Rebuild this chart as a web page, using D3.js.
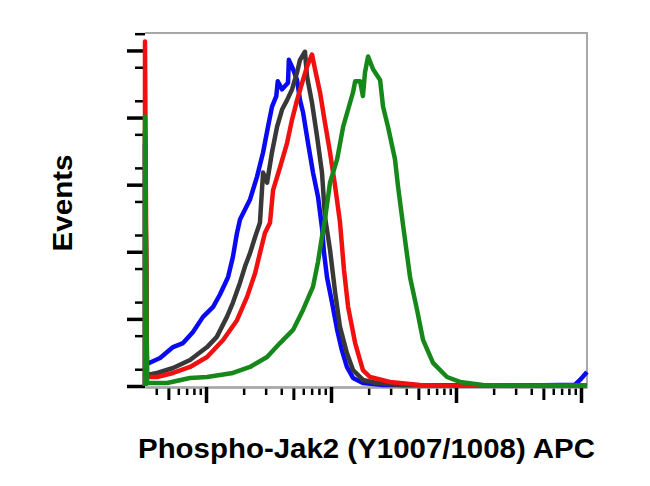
<!DOCTYPE html>
<html>
<head>
<meta charset="utf-8">
<script src="https://cdn.jsdelivr.net/npm/d3@7"></script>
<style>
  body { margin: 0; background: #fff; }
  svg { display: block; }
</style>
</head>
<body>
<div id="chart"></div>
<script>
// Histogram data: [APC intensity, events]
const blueData = [
  [3.25, 0], [3.25, 180], [3.37, 16.4], [4.29, 20.9], [5.45, 29], [6.55, 32], [7.87, 40.3],
  [9.46, 51.5], [11.4, 59], [12.9, 68], [15.0, 81], [16.4, 96], [17.7, 114], [18.7, 124],
  [22.5, 139], [25.6, 156], [28.6, 174], [31.3, 193], [33.7, 208], [36.5, 216], [37.5, 227],
  [40.6, 221], [45.3, 226], [46, 243], [49.7, 236], [53.5, 228], [56.5, 213], [59.7, 204],
  [65.5, 181], [71.8, 159], [78.7, 141], [84.7, 118], [88, 99], [92.9, 81], [102, 62],
  [112, 41.8], [122, 26.9], [134, 14.2], [150, 6], [180, 2.2], [261, 0.7], [1000, 0.5],
  [5000, 0.5], [8954, 1], [9817, 4.5], [11170, 10.4]
];
const blackData = [
  [3.25, 0], [3.25, 190], [3.37, 8.2], [4.06, 9.7], [5.45, 13.4], [7.45, 19.4], [10.2, 29],
  [12.2, 36.6], [14.7, 51.5], [16.4, 62], [18.7, 77], [20.5, 89], [22.5, 99], [24.7, 111],
  [27.0, 121.6], [28.6, 159], [30.8, 151.5], [33.7, 174], [37.0, 193], [40.6, 206],
  [44.5, 213], [48.8, 221], [53.5, 233.6], [56.5, 243], [61.9, 249], [64.3, 230.6],
  [70.5, 211], [77.3, 186], [84.7, 159], [89.5, 126], [98.2, 101.5], [108, 69.4], [118, 44],
  [134, 24.6], [150, 11.9], [180, 4.5], [233, 2.2], [356, 0.7], [2000, 0.5], [11170, 0.3]
];
const redData = [
  [3.25, 0], [3.25, 256.7], [3.37, 6.7], [4.06, 6.7], [5.45, 9.7], [7.45, 14.2], [10.2, 21.6],
  [13.7, 34.3], [17.7, 49], [21.3, 66.4], [24.7, 84], [27.0, 99], [29.6, 114], [32.5, 121.6],
  [34.4, 146], [39.1, 163], [44.5, 181], [48.8, 198.5], [53.5, 213], [59.7, 228], [64.3, 238],
  [70.5, 247], [74.5, 236], [81.7, 218.7], [89.5, 196], [98.2, 174], [108, 148.5], [118, 122],
  [127, 86.6], [137, 59], [156, 32], [180, 11.9], [205, 6.7], [296, 3], [515, 0.7],
  [847, 0.2], [11170, 0.2]
];
const greenData = [
  [3.25, 0], [3.25, 200.7], [3.37, 2.2], [4.88, 2.2], [7.45, 6], [10.2, 6.7], [16.4, 9.7],
  [22.5, 14.2], [30.8, 21.6], [39.1, 32], [49.7, 41.8], [59.7, 56.7], [71.8, 74], [78.7, 92.5],
  [86.3, 116], [89.5, 124], [98.2, 151.5], [112, 169], [125, 193], [137, 206], [150, 218.7],
  [156, 227], [171, 227], [180, 216], [187, 233.6], [198, 245.5], [217, 236], [247, 228],
  [261, 208], [286, 193], [325, 169], [344, 148.5], [377, 120], [429, 81], [488, 56.7],
  [545, 34.3], [655, 17.2], [847, 6.7], [1076, 3], [1644, 0.7], [3000, 0.3], [11170, 0.2]
];

const seriesNames = ["blue", "black", "red", "green"];
const seriesColors = ["#0a0af2", "#383838", "#f01010", "#16881a"];
const seriesData = [blueData, blackData, redData, greenData];

const yMajorTicks = [0, 50, 100, 150, 200, 250];
const xMajorTicks = [10, 100, 1000, 10000];

const xTitle = "Phospho-Jak2 (Y1007/1008) APC";
const yTitle = "Events";

function drawHistogram() {
    const margin = { top: 33, right: 63, bottom: 100, left: 145 },
          width = 650 - margin.left - margin.right,
          height = 486 - margin.top - margin.bottom;

    const svg = d3.select("#chart").append("svg")
        .attr("width", width + margin.left + margin.right)
        .attr("height", height + margin.top + margin.bottom)
        .append("g")
        .attr("transform", `translate(${margin.left},${margin.top})`);

    const x = d3.scaleLog()
        .domain([3.25, 11170])
        .range([0, width]);

    const y = d3.scaleLinear()
        .domain([0, 263])
        .range([height, 0]);

    // gray frame on top and right
    svg.append("path")
        .attr("d", `M0,0H${width}V${height}`)
        .attr("fill", "none")
        .attr("stroke", "#a8a8a8")
        .attr("stroke-width", 2);

    // minor ticks for the log axis: 2..9 of each decade, 5 a bit longer
    const xMinor = [], xMid = [];
    [1, 10, 100, 1000].forEach(dec => {
        [2, 3, 4, 6, 7, 8, 9].forEach(k => {
            const v = k * dec;
            if (v >= 3.25 && v <= 11170) xMinor.push(v);
        });
        xMid.push(5 * dec);
    });
    const yMinor = d3.range(12.5, 263, 25);

    // X axis
    const xAxisG = svg.append("g").attr("transform", `translate(0,${height + 1})`);
    xAxisG.append("g")
        .call(d3.axisBottom(x).tickValues(xMinor).tickSize(8).tickSizeOuter(0).tickFormat(""))
        .call(g => g.selectAll(".tick line").attr("stroke-width", 2.5));
    xAxisG.append("g")
        .call(d3.axisBottom(x).tickValues(xMid).tickSize(13).tickSizeOuter(0).tickFormat(""))
        .call(g => g.selectAll(".tick line").attr("stroke-width", 3));
    xAxisG.append("g")
        .call(d3.axisBottom(x).tickValues(xMajorTicks).tickSize(16).tickSizeOuter(0).tickFormat(""))
        .call(g => g.selectAll(".tick line").attr("stroke-width", 3.5));
    xAxisG.selectAll(".domain").attr("stroke", "#a8a8a8").attr("stroke-width", 2);

    // Y axis
    const yAxisG = svg.append("g");
    yAxisG.append("g")
        .call(d3.axisLeft(y).tickValues(yMinor).tickSize(10).tickFormat(""))
        .call(g => g.selectAll(".tick line").attr("stroke-width", 2.5));
    yAxisG.append("g")
        .call(d3.axisLeft(y).tickValues(yMajorTicks).tickSize(18).tickFormat(""))
        .call(g => g.selectAll(".tick line").attr("stroke-width", 3.5));
    yAxisG.selectAll(".domain").remove();

    // histogram lines
    const line = d3.line()
        .x(d => x(d[0]))
        .y(d => y(d[1]));

    svg.append("g")
        .selectAll("path")
        .data(seriesData)
        .enter()
        .append("path")
          .attr("class", (d, i) => "series-" + seriesNames[i])
          .attr("d", line)
          .attr("fill", "none")
          .attr("stroke", (d, i) => seriesColors[i])
          .attr("stroke-width", 4.5)
          .attr("stroke-linejoin", "round");

    // X axis label
    svg.append("text")
        .attr("x", -7)
        .attr("y", height + 72)
        .attr("textLength", 457)
        .attr("lengthAdjust", "spacingAndGlyphs")
        .style("font-family", "'Liberation Sans', Arial, sans-serif")
        .style("font-size", "27px")
        .style("font-weight", "bold")
        .text(xTitle);

    // Y axis label
    svg.append("text")
        .attr("transform", "rotate(-90)")
        .attr("x", -(203 - margin.top))
        .attr("y", 72 - margin.left)
        .attr("text-anchor", "middle")
        .attr("textLength", 97)
        .attr("lengthAdjust", "spacingAndGlyphs")
        .style("font-family", "'Liberation Sans', Arial, sans-serif")
        .style("font-size", "28px")
        .style("font-weight", "bold")
        .text(yTitle);
}

drawHistogram();
</script>
</body>
</html>
